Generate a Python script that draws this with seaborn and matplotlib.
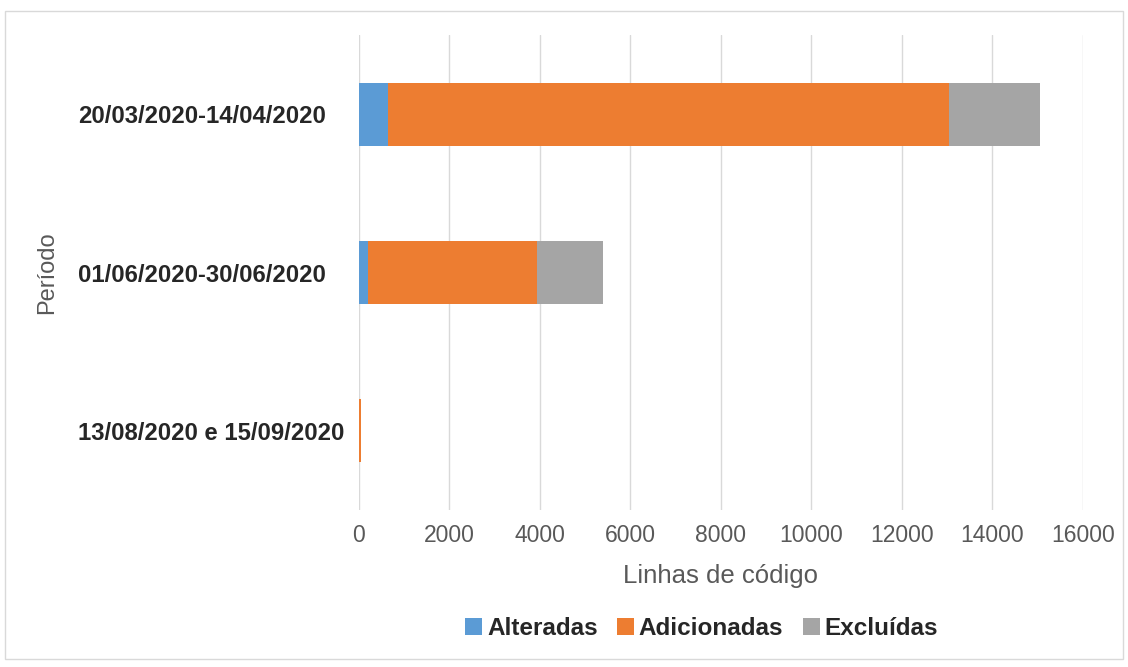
import matplotlib
matplotlib.use("Agg")
import matplotlib.pyplot as plt
from matplotlib.patches import Patch, Rectangle
import numpy as np
import pandas as pd
import seaborn as sns

periodos = ["20/03/2020-14/04/2020", "01/06/2020-30/06/2020", "13/08/2020 e 15/09/2020"]
alteradas = [650, 200, 5]
adicionadas = [12400, 3750, 45]
excluidas = [2010, 1450, 0]
series = ["Alteradas", "Adicionadas", "Excluídas"]
cores = ["#5b9bd5", "#ed7d31", "#a5a5a5"]
xticks = [0, 2000, 4000, 6000, 8000, 10000, 12000, 14000, 16000]

sns.set_theme(style="white")
plt.rcParams["font.family"] = ["Liberation Sans", "DejaVu Sans"]

df = pd.DataFrame({"Período": periodos, "Alteradas": alteradas,
                   "Adicionadas": adicionadas, "Excluídas": excluidas})
# cumulative ends of each stacked segment
cum = df[series].cumsum(axis=1)

fig = plt.figure(figsize=(11.28, 6.67), dpi=100)
ax = fig.add_axes([0.318, 0.2354, 0.642, 0.7121])

# draw from the outermost segment inwards so each stack reads left-to-right
for nome, cor in reversed(list(zip(series, cores))):
    sns.barplot(x=cum[nome], y=df["Período"], color=cor, width=0.4,
                orient="h", ax=ax, saturation=1, linewidth=0, zorder=3)

ax.set_xlim(0, 16000)
ax.set_xticks(xticks)
ax.set_xticklabels([str(t) for t in xticks], fontsize=16.5, color="#595959")
ax.tick_params(axis="x", length=0, pad=10)
# category labels are left-aligned in a column
ax.tick_params(axis="y", length=0, pad=202)
for lbl in ax.get_yticklabels():
    lbl.set_fontsize(17.2)
    lbl.set_fontweight("bold")
    lbl.set_color("#262626")
    lbl.set_horizontalalignment("left")
ax.grid(axis="x", color="#d9d9d9", linewidth=1, zorder=0)
ax.set_axisbelow(True)
for s in ax.spines.values():
    s.set_visible(False)

ax.set_xlabel("Linhas de código", fontsize=18.5, color="#595959", labelpad=12)
ax.set_ylabel("Período", fontsize=17, color="#595959")
ax.yaxis.set_label_coords(-0.415, 0.5)

handles = [Patch(facecolor=c, edgecolor="none", label=n) for n, c in zip(series, cores)]
leg = fig.legend(handles=handles, loc="center", bbox_to_anchor=(0.622, 0.058),
                 ncol=3, frameon=False, handlelength=0.7, handleheight=0.7,
                 handletextpad=0.2, columnspacing=0.8,
                 prop={"size": 17.5, "weight": "bold"})
for t in leg.get_texts():
    t.set_color("#262626")

# light frame around the chart area
fig.patches.append(Rectangle((0.004, 0.012), 0.992, 0.972, transform=fig.transFigure,
                             fill=False, edgecolor="#d9d9d9", linewidth=1))

fig.savefig("out.png", dpi=100, facecolor="white")
